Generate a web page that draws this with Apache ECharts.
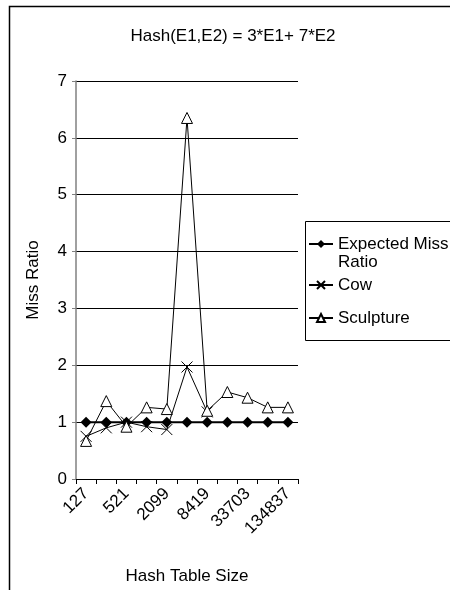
<!DOCTYPE html>
<html>
<head>
<meta charset="utf-8">
<script src="https://cdn.jsdelivr.net/npm/echarts@6/dist/echarts.min.js"></script>
<style>
html,body{margin:0;padding:0;background:#fff;}
#c{width:450px;height:590px;}
</style>
</head>
<body>
<div id="c"></div>
<script>
var categories = ['127','257','521','1031','2099','4201','8419','16843','33703','67409','134837'];
var expected = [1,1,1,1,1,1,1,1,1,1,1];
var cow = [0.75,0.9,1.0,0.92,0.87,1.97,1.18,null,null,null,null];
var sculpture = [0.67,1.37,0.92,1.26,1.23,6.35,1.2,1.53,1.43,1.26,1.26];
var yTicks = [0,1,2,3,4,5,6,7];

var FONT = 'Liberation Sans, Arial, sans-serif';
var FS = 17;
var chart = echarts.init(document.getElementById('c'), null, {renderer:'canvas'});
var xPath = 'path://M0,0L10,10M10,0L0,10';
chart.setOption({
  animation: false,
  backgroundColor: '#fff',
  textStyle: {fontFamily: FONT, color:'#000'},
  title: {
    text: 'Hash(E1,E2) = 3*E1+ 7*E2',
    left: 228, top: 23, textAlign: 'center',
    textStyle: {fontFamily: FONT, fontSize: FS, fontWeight: 'normal', color:'#000'}
  },
  graphic: [
    {type:'rect', shape:{x:9.5, y:6.5, width:600, height:700}, style:{fill:'none', stroke:'#000', lineWidth:1.5}, silent:true},
    {type:'rect', shape:{x:305.5, y:221.5, width:200, height:119}, style:{fill:'none', stroke:'#000', lineWidth:1}, silent:true}
  ],
  legend: {
    orient: 'vertical',
    left: 308, top: 217,
    padding: 0,
    itemGap: 0,
    itemWidth: 24, itemHeight: 10,
    textStyle: {fontFamily: FONT, fontSize: FS, color:'#000', lineHeight: 18},
    formatter: function(n){ return n === 'Expected Miss Ratio' ? ' \nExpected Miss\nRatio' : n; },
    data: [
      {name:'Expected Miss Ratio', textStyle:{lineHeight:18}},
      {name:'Cow', textStyle:{lineHeight:28}},
      {name:'Sculpture', textStyle:{lineHeight:38}}
    ]
  },
  grid: {left: 76, top: 81, width: 222, height: 401, containLabel: false},
  xAxis: {
    type: 'category',
    data: categories,
    boundaryGap: true,
    name: 'Hash Table Size',
    nameLocation: 'middle',
    nameGap: 89,
    nameTextStyle: {fontFamily: FONT, fontSize: FS, color:'#000'},
    axisLine: {lineStyle:{color:'#000', width:1}},
    axisTick: {show:true, interval:0, length:5, lineStyle:{color:'#000'}},
    axisLabel: {interval:1, rotate:45, fontFamily: FONT, fontSize: FS, color:'#000', margin:12},
    splitLine: {show:false}
  },
  yAxis: {
    type: 'value',
    min: yTicks[0], max: yTicks[yTicks.length-1], interval: 1,
    name: 'Miss Ratio',
    nameLocation: 'middle',
    nameGap: 34,
    nameRotate: 90,
    nameTextStyle: {fontFamily: FONT, fontSize: FS, color:'#000'},
    axisLine: {show:true, lineStyle:{color:'#808080', width:1.5}},
    axisTick: {show:true, length:4, lineStyle:{color:'#808080'}},
    axisLabel: {fontFamily: FONT, fontSize: FS, color:'#000', margin:9},
    splitLine: {show:true, lineStyle:{color:'#000', width:1}}
  },
  series: [
    {
      name: 'Expected Miss Ratio', type: 'line', data: expected,
      symbol: 'diamond', symbolSize: 11, showAllSymbol: true,
      lineStyle: {color:'#000', width:2},
      itemStyle: {color:'#000', borderColor:'#000', borderWidth:0}
    },
    {
      name: 'Cow', type: 'line', data: cow,
      symbol: xPath, symbolSize: 11, showAllSymbol: true, connectNulls: false,
      lineStyle: {color:'#000', width:1},
      itemStyle: {color:'#000', borderColor:'#000', borderWidth:1}
    },
    {
      name: 'Sculpture', type: 'line', data: sculpture,
      symbol: 'triangle', symbolSize: 11, showAllSymbol: true,
      lineStyle: {color:'#000', width:1},
      itemStyle: {color:'#fff', borderColor:'#000', borderWidth:1}
    }
  ]
});
</script>
</body>
</html>
